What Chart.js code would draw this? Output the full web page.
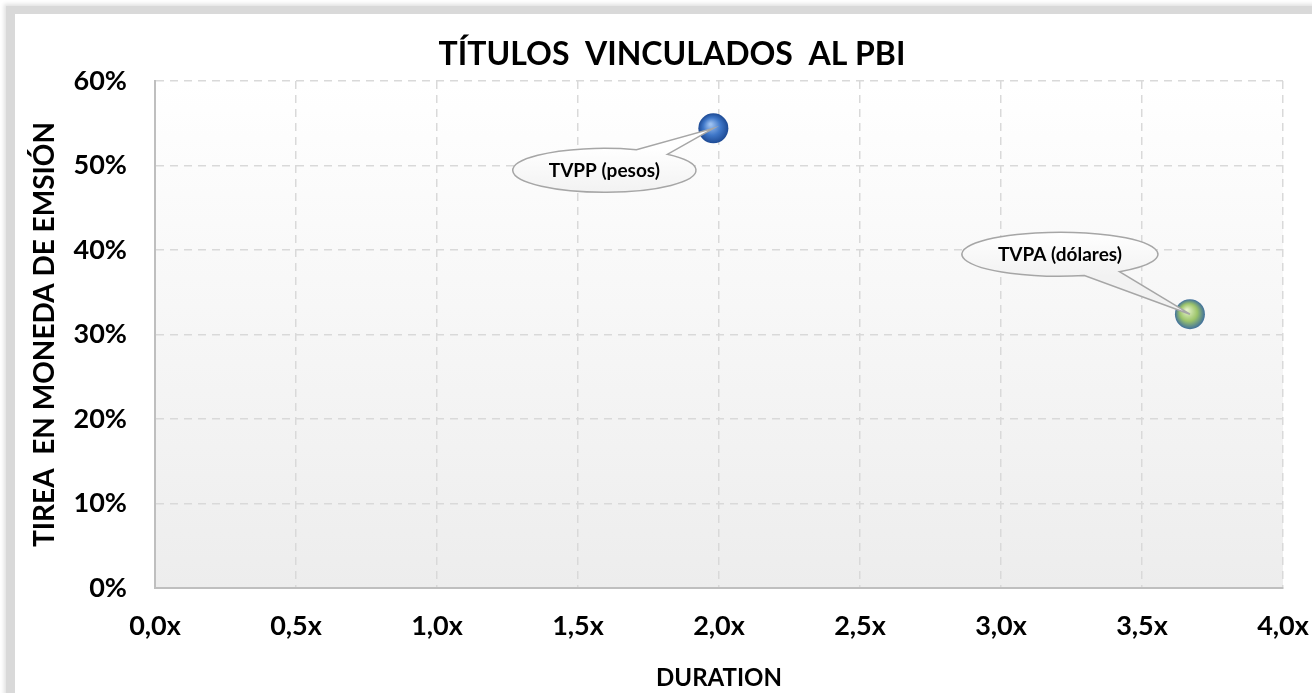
<!DOCTYPE html>
<html>
<head>
<meta charset="utf-8">
<script src="https://cdn.jsdelivr.net/npm/chart.js@4"></script>
<style>
  html, body { margin: 0; padding: 0; background: #fff; overflow: hidden; }
  #frame {
    position: absolute; left: 6px; top: 6px; width: 1400px; height: 800px;
    border-left: 9px solid #d9d9d9; border-top: 8px solid #d9d9d9;
    box-shadow: -2px -2px 4px rgba(0,0,0,0.12);
    background: #fff;
  }
  #wrap { position: absolute; left: 0; top: 0; width: 1312px; height: 693px; }
</style>
</head>
<body>
<div id="frame"></div>
<div id="wrap"><canvas id="chart" width="1312" height="693"></canvas></div>
<script>
// Bonos vinculados al PBI: duration vs TIREA
const names = ['TVPP (pesos)', 'TVPA (dólares)'];
const duration = [1.98, 3.67];
const tirea = [0.544, 0.324];

// callout placement relative to each point (pixels)
const calloutOffsets = [[-109, 42], [-130, -60]];
const ballColors = [
  ['#9cc0f0', '#3f77c8', '#1d4a94'],
  ['#e2f0c4', '#9cc46a', '#3f6f9c']
];

const FONT = 'Lato, "Open Sans", sans-serif';

function ballGradient(ctx) {
  const chart = ctx.chart;
  const c = ballColors[ctx.dataIndex] || ballColors[0];
  if (ctx.type !== 'data' || !chart.scales.x || !chart.chartArea) return c[1];
  const x = chart.scales.x.getPixelForValue(duration[ctx.dataIndex]);
  const y = chart.scales.y.getPixelForValue(tirea[ctx.dataIndex]);
  if (!isFinite(x) || !isFinite(y)) return c[1];
  const g = chart.ctx.createRadialGradient(x - 3, y - 4, 1, x, y, 15);
  g.addColorStop(0, c[0]);
  g.addColorStop(0.55, c[1]);
  g.addColorStop(1, c[2]);
  return g;
}

// plot background gradient
const plotBg = {
  id: 'plotBg',
  beforeDraw(chart) {
    const { ctx, chartArea: a } = chart;
    const g = ctx.createLinearGradient(0, a.top, 0, a.bottom);
    g.addColorStop(0, '#ffffff');
    g.addColorStop(1, '#ededed');
    ctx.save();
    ctx.fillStyle = g;
    ctx.fillRect(a.left, a.top, a.right - a.left, a.bottom - a.top);
    ctx.restore();
  }
};

// title text
const titleText = {
  id: 'titleText',
  afterDraw(chart) {
    const ctx = chart.ctx;
    ctx.save();
    ctx.font = 'bold 32px ' + FONT;
    ctx.fillStyle = '#000';
    ctx.textAlign = 'center';
    ctx.textBaseline = 'middle';
    ctx.fillText('TÍTULOS  VINCULADOS  AL PBI', 672, 55);
    ctx.restore();
  }
};

// speech-bubble callouts
const callouts = {
  id: 'callouts',
  afterDatasetsDraw(chart) {
    const ctx = chart.ctx;
    const xs = chart.scales.x, ys = chart.scales.y;
    names.forEach((name, i) => {
      const px = xs.getPixelForValue(duration[i]);
      const py = ys.getPixelForValue(tirea[i]);
      const cx = px + calloutOffsets[i][0];
      const cy = py + calloutOffsets[i][1];
      ctx.save();
      ctx.font = 'bold 19px ' + FONT;
      const tw = ctx.measureText(name).width;
      const rx = tw / 2 + 36, ry = 22;
      // tail base angles on the ellipse facing the point
      const ang = Math.atan2((py - cy) / ry, (px - cx) / rx);
      const a1 = ang - 0.2, a2 = ang + 0.2;
      const g = ctx.createLinearGradient(0, cy - ry, 0, cy + ry);
      g.addColorStop(0, '#ffffff');
      g.addColorStop(1, '#f2f2f2');
      ctx.fillStyle = g;
      ctx.strokeStyle = '#a6a6a6';
      ctx.lineWidth = 1.5;
      ctx.beginPath();
      ctx.ellipse(cx, cy, rx, ry, 0, a2, a1 + Math.PI * 2);
      ctx.lineTo(px, py);
      ctx.closePath();
      ctx.fill();
      ctx.stroke();
      ctx.fillStyle = '#000';
      ctx.textAlign = 'center';
      ctx.textBaseline = 'middle';
      ctx.fillText(name, cx, cy + 1);
      ctx.restore();
    });
  }
};

new Chart(document.getElementById('chart'), {
  type: 'scatter',
  data: {
    datasets: [{
      data: duration.map((d, i) => ({ x: d, y: tirea[i] })),
      pointRadius: 15,
      pointHoverRadius: 15,
      pointBackgroundColor: ballGradient,
      pointBorderWidth: 0
    }]
  },
  options: {
    responsive: false,
    animation: false,
    layout: { padding: { top: 81, right: 0, left: 0, bottom: 0 } },
    plugins: { legend: { display: false }, tooltip: { enabled: false } },
    scales: {
      x: {
        type: 'linear', min: 0, max: 4,
        afterFit(scale) { scale.height = 105; scale.paddingRight = 29; },
        ticks: {
          stepSize: 0.5, padding: 22, color: '#000',
          font: { family: FONT, size: 27, weight: 'bold' },
          callback: v => v.toFixed(1).replace('.', ',') + 'x'
        },
        grid: { color: '#d9d9d9', lineWidth: 1.5, drawTicks: false },
        border: { display: true, color: '#bfbfbf', width: 2, dash: [8, 6] },
        title: {
          display: true, text: 'DURATION', color: '#000',
          font: { family: FONT, size: 24, weight: 'bold' },
          padding: { top: 2, bottom: 0 }
        }
      },
      y: {
        type: 'linear', min: 0, max: 0.6,
        afterFit(scale) { scale.width = 155; },
        ticks: {
          stepSize: 0.1, padding: 28, color: '#000',
          font: { family: FONT, size: 27, weight: 'bold' },
          callback: v => Math.round(v * 100) + '%'
        },
        grid: { color: '#d9d9d9', lineWidth: 1.5, drawTicks: false },
        border: { display: true, color: '#bfbfbf', width: 2, dash: [8, 6] },
        title: {
          display: true, text: 'TIREA  EN MONEDA DE EMSIÓN', color: '#000',
          font: { family: FONT, size: 28, weight: 'bold' },
          padding: { top: 28, bottom: 0 }
        }
      }
    }
  },
  plugins: [plotBg, callouts, titleText]
});
</script>
</body>
</html>
